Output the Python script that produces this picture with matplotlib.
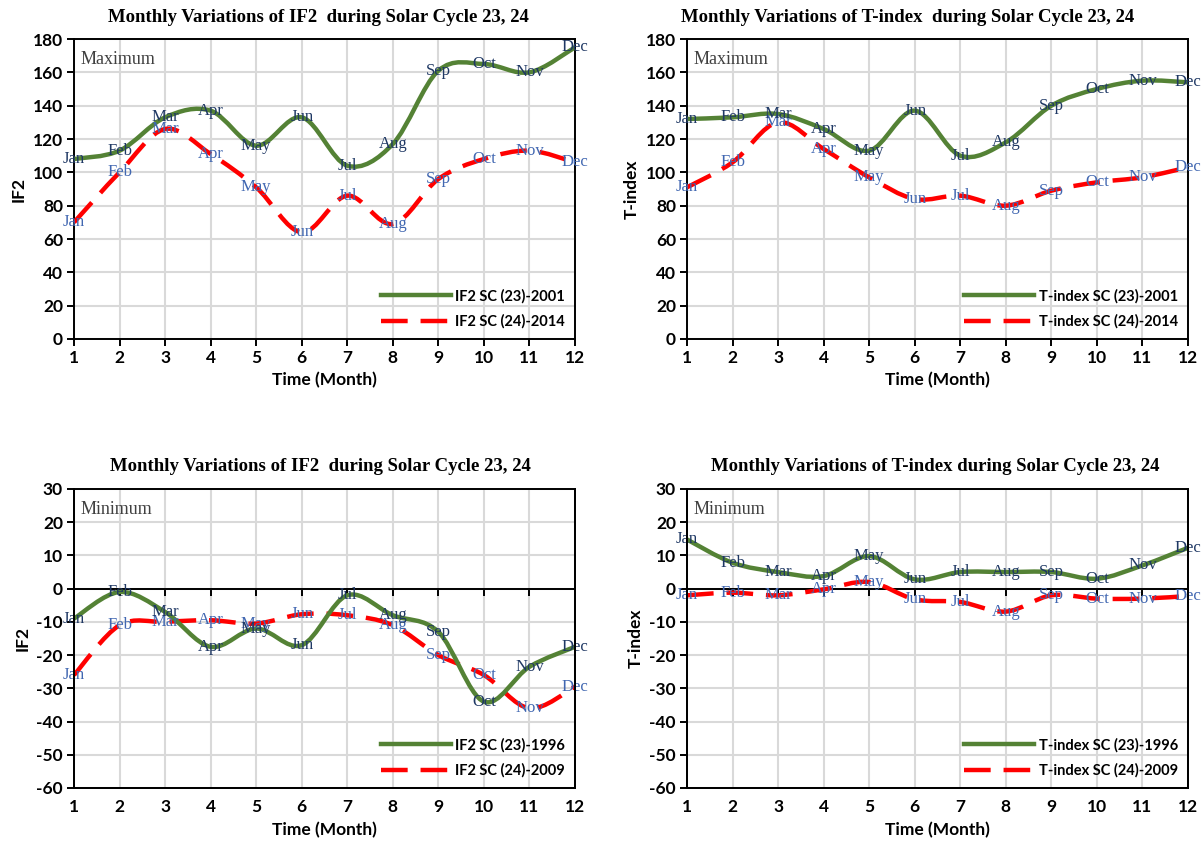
import matplotlib
matplotlib.use("Agg")
import matplotlib.pyplot as plt
from matplotlib.path import Path
from matplotlib.patches import PathPatch, Rectangle
from matplotlib.lines import Line2D

plt.rcParams["axes.unicode_minus"] = False

# ---------------- data ----------------
months = [1, 2, 3, 4, 5, 6, 7, 8, 9, 10, 11, 12]
month_names = ["Jan", "Feb", "Mar", "Apr", "May", "Jun",
               "Jul", "Aug", "Sep", "Oct", "Nov", "Dec"]

if2_max_sc23_2001 = [108, 113, 133, 137, 116, 133, 104, 117, 161, 165, 160, 175]
if2_max_sc24_2014 = [70, 100, 126, 111, 91, 64, 86, 69, 96, 108, 113, 106]

tidx_max_sc23_2001 = [132, 133, 135, 126, 113, 137, 110, 118, 140, 150, 155, 154]
tidx_max_sc24_2014 = [91, 106, 130, 114, 97, 84, 86, 80, 89, 94, 97, 103]

if2_min_sc23_1996 = [-9, -1, -7, -17.5, -12, -17, -2, -8, -13, -34, -23.5, -17.5]
if2_min_sc24_2009 = [-26, -11, -10, -9.5, -10.5, -7.7, -8, -11, -20, -26, -36, -29.5]

tidx_min_sc23_1996 = [14.8, 7.8, 5, 3.8, 9.8, 2.8, 5, 5, 5, 3, 7, 12.3]
tidx_min_sc24_2009 = [-2, -1.2, -2, -0.2, 2, -3.2, -4, -6.9, -2, -3, -3, -2.2]

titles = ["Monthly Variations of IF2  during Solar Cycle 23, 24",
          "Monthly Variations of T-index  during Solar Cycle 23, 24",
          "Monthly Variations of IF2  during Solar Cycle 23, 24",
          "Monthly Variations of T-index during Solar Cycle 23, 24"]
ylabels = ["IF2", "T-index", "IF2", "T-index"]
corner_text = ["Maximum", "Maximum", "Minimum", "Minimum"]
legend_labels = [("IF2 SC (23)-2001", "IF2 SC (24)-2014"),
                 ("T-index SC (23)-2001", "T-index SC (24)-2014"),
                 ("IF2 SC (23)-1996", "IF2 SC (24)-2009"),
                 ("T-index SC (23)-1996", "T-index SC (24)-2009")]
series = [(if2_max_sc23_2001, if2_max_sc24_2014),
          (tidx_max_sc23_2001, tidx_max_sc24_2014),
          (if2_min_sc23_1996, if2_min_sc24_2009),
          (tidx_min_sc23_1996, tidx_min_sc24_2009)]

# ---------------- style ----------------
GREEN = "#548235"
RED = "#FF0000"
LBL_DARK = "#1F3864"
LBL_LIGHT = "#4167B1"
GRID = "#D9D9D9"
SANS = "Lato"
SERIF = "Liberation Serif"
DASH = (0, (6.0, 2.9))

fig = plt.figure(figsize=(12.04, 8.43), dpi=100)
W, H = 1204.0, 843.0

# axes boxes in pixels: left, top, right, bottom
boxes = [(74, 39, 575, 339), (687, 39, 1188, 339),
         (74, 489, 575, 788), (687, 489, 1188, 788)]
title_centers = [318, 908, 320, 935]
ylims = [(0, 180, 20), (0, 180, 20), (-60, 30, 10), (-60, 30, 10)]


def smooth_path(x, y):
    n = len(x)
    verts = [(x[0], y[0])]
    codes = [Path.MOVETO]
    for i in range(n - 1):
        p0 = i - 1 if i > 0 else i
        p3 = i + 2 if i + 2 < n else i + 1
        c1 = (x[i] + (x[i + 1] - x[p0]) / 6.0, y[i] + (y[i + 1] - y[p0]) / 6.0)
        c2 = (x[i + 1] - (x[p3] - x[i]) / 6.0, y[i + 1] - (y[p3] - y[i]) / 6.0)
        verts += [c1, c2, (x[i + 1], y[i + 1])]
        codes += [Path.CURVE4] * 3
    return Path(verts, codes)


for k in range(4):
    l, t, r, b = boxes[k]
    ax = fig.add_axes([l / W, 1 - b / H, (r - l) / W, (b - t) / H])
    ymin, ymax, step = ylims[k]
    ax.set_xlim(1, 12)
    ax.set_ylim(ymin, ymax)
    ax.set_xticks(months)
    ax.set_yticks(list(range(ymin, ymax + 1, step)))
    ax.grid(True, color=GRID, linewidth=1.5, zorder=0)
    ax.set_axisbelow(True)
    for s in ax.spines.values():
        s.set_linewidth(1.4)
        s.set_color("black")

    ax.tick_params(axis="y", direction="out", length=5, width=1.4, pad=3,
                   labelsize=12.5)

    if ymin < 0:
        # category axis crosses at zero; labels stay at the bottom
        ax.spines["top"].set_position(("data", 0))
        ax.tick_params(axis="x", bottom=False, top=True, labelbottom=True,
                       labeltop=False, direction="in", length=5, width=1.4,
                       pad=8, labelsize=12.5)
        ax.add_patch(Rectangle((0, 0), 1, 1, transform=ax.transAxes, fill=False,
                               edgecolor="black", linewidth=1.4, zorder=5,
                               clip_on=False))
        xlpad = 5
    else:
        ax.tick_params(axis="x", direction="out", length=5, width=1.4, pad=3,
                       labelsize=12.5)
        xlpad = 4

    for lab in ax.get_yticklabels() + ax.get_xticklabels():
        lab.set_fontfamily(SANS)
        lab.set_fontweight("bold")
        lab.set_fontsize(12.5)

    y23, y24 = series[k]
    ax.add_patch(PathPatch(smooth_path(months, y24), fill=False, edgecolor=RED,
                           linewidth=3.2, linestyle=DASH, capstyle="butt", zorder=3))
    ax.add_patch(PathPatch(smooth_path(months, y23), fill=False, edgecolor=GREEN,
                           linewidth=3.2, capstyle="round", joinstyle="round", zorder=3))

    for xm, v, name in zip(months, y24, month_names):
        ax.text(xm, v, name, ha="center", va="center", fontsize=12,
                family=SERIF, color=LBL_LIGHT, zorder=4)
    for xm, v, name in zip(months, y23, month_names):
        ax.text(xm, v, name, ha="center", va="center", fontsize=12,
                family=SERIF, color=LBL_DARK, zorder=4)

    ax.text(0.014, 0.93, corner_text[k], transform=ax.transAxes, ha="left",
            va="center", fontsize=13, family=SERIF, color="#404040")

    handles = [Line2D([], [], color=GREEN, linewidth=3.2),
               Line2D([], [], color=RED, linewidth=3.2, linestyle=DASH)]
    ax.legend(handles, legend_labels[k], loc="lower right", frameon=False,
              prop={"family": SANS, "weight": "bold", "size": 10.5},
              handlelength=4.8, handletextpad=0.3, labelspacing=0.75,
              borderaxespad=0.3)

    ax.text((title_centers[k] - l) / (r - l), 1.0 + 22.0 / (b - t), titles[k],
            transform=ax.transAxes, ha="center", va="center", fontsize=13.5,
            family=SERIF, weight="bold")

    ax.set_xlabel("Time (Month)", fontfamily=SANS, fontweight="bold",
                  fontsize=12.5, labelpad=xlpad)
    ax.set_ylabel(ylabels[k], fontfamily=SANS, fontweight="bold",
                  fontsize=12.5, labelpad=4)

fig.savefig("out.png", dpi=100)
